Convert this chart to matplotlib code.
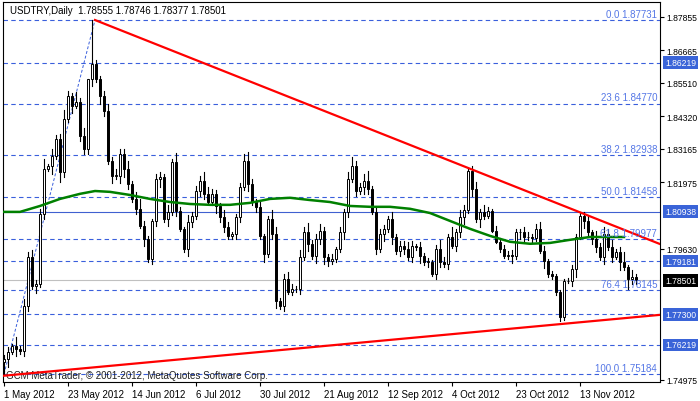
import matplotlib
matplotlib.use("Agg")
import matplotlib.pyplot as plt
import numpy as np

closes = [1.7572,1.7597,1.7618,1.7607,1.7600,1.7760,1.7933,1.7831,1.7838,1.8086,
1.8245,1.8256,1.8291,1.8352,1.8235,1.8423,1.8504,1.8469,1.8483,1.8362,
1.8316,1.8564,1.8618,1.8564,1.8504,1.8451,1.8274,1.8221,1.8221,1.8299,
1.8245,1.8192,1.8139,1.8104,1.8043,1.7997,1.7926,1.8061,1.8210,1.8217,
1.8068,1.8093,1.8270,1.8097,1.8033,1.7962,1.8058,1.8079,1.8167,1.8203,
1.8157,1.8128,1.8157,1.8114,1.8075,1.8040,1.8008,
1.8015,1.8075,1.8182,1.8274,1.8192,1.8128,1.8111,1.8008,1.7944,1.8068,
1.8015,1.7777,1.7760,1.7855,1.7809,1.7820,1.7820,1.7933,1.8022,1.7980,
1.7937,1.7997,1.8026,1.7933,1.7919,1.7926,1.7962,1.8022,1.8093,1.8210,
1.8256,1.8167,1.8182,1.8203,1.8174,1.8093,1.7962,1.8015,1.8033,1.8068,
1.8004,1.7955,1.7972,1.7962,1.7933,1.7972,1.7969,1.7937,1.7916,1.7916,
1.7873,1.7962,1.7916,1.7909,1.8004,1.7972,1.8022,1.8075,1.8100,1.8238,
1.8174,1.8068,1.8093,1.8079,1.8097,1.8026,1.7987,1.7962,1.7937,1.7941,
1.7937,1.8022,1.8022,1.8004,1.8004,1.8001,1.8033,1.7955,1.7919,1.7873,
1.7866,1.7809,1.7721,1.7848,1.7848,1.7891,1.8004,1.8079,1.8061,1.8022,
1.7997,1.7969,1.7933,1.8015,1.7969,1.7933,1.7951,1.7916,1.7898,1.7855,
1.7862,1.7850]
first_open = 1.7560
wick_up = "2315243423614235326250322342433524632133242521423354322431224532312542343243523422313245324623322423343132212532624323424213222322332343121112222"
wick_dn = "3514233242315263241333425324245323142335242312432331243322332423252342312232424343222432324313242423323242313323133424252111212424323214222221"
wick_unit = 0.0006
peak_bar, peak_high = 22, 1.87731
trough_bar, trough_low = 139, 1.7707
start_low = 1.75184

ma_bars = [-0.25,4,9,14,19,22.75,26.5,31.5,36.5,41.5,46.5,51.5,56.5,61.5,66.5,71.5,76.5,81.5,86.5,91.5,96.5,101.5,106.5,111.5,116.5,121.5,126.5,131.5,136.5,141.5,146.5,151.5,155]
ma_vals = [1.8093,1.8093,1.8114,1.8139,1.8157,1.8167,1.8164,1.8153,1.8139,1.8128,1.8121,1.8118,1.8118,1.8125,1.8139,1.8143,1.8135,1.8128,1.8114,1.8111,1.8111,1.8104,1.8089,1.8061,1.8033,1.8008,1.7987,1.7980,1.7983,1.7994,1.8004,1.8004,1.8004]

upper_line = ([22.75, 164], [1.87731, 1.7979])
lower_line = ([-0.25, 164], [1.7512, 1.7728])
fib_diag = ([0, 22.75], [1.75184, 1.87731])

fib_levels = [0.0, 23.6, 38.2, 50.0, 61.8, 76.4, 100.0]
fib_prices = [1.87731, 1.84770, 1.82938, 1.81458, 1.79977, 1.78145, 1.75184]
other_dashed = [1.86219, 1.79181, 1.77300, 1.76219]
solid_level = 1.80938
current = 1.78501
boxed = [1.86219, 1.80938, 1.79181, 1.77300, 1.76219]
ticks = [1.87855, 1.86665, 1.85510, 1.84320, 1.83165, 1.81975, 1.79630, 1.74975]
date_labels = ["1 May 2012","23 May 2012","14 Jun 2012","6 Jul 2012","30 Jul 2012",
               "21 Aug 2012","12 Sep 2012","4 Oct 2012","23 Oct 2012","13 Nov 2012"]
date_bars = [0,16,32,48,64,80,96,112,128,144]

plt.rcParams['font.family'] = ['Liberation Sans', 'DejaVu Sans']
FS = 7
RFS = 6.2

n = len(closes)
opens = [first_open] + closes[:-1]
highs, lows = [], []
for i in range(n):
    u = int(wick_up[i % len(wick_up)]); d = int(wick_dn[i % len(wick_dn)])
    highs.append(max(opens[i], closes[i]) + u*wick_unit)
    lows.append(min(opens[i], closes[i]) - d*wick_unit)
highs[peak_bar] = peak_high
lows[trough_bar] = trough_low
lows[0] = start_low

fig = plt.figure(figsize=(7, 4.02), dpi=100)
ax = fig.add_axes([3/700, 19/402, 657/700, 380/402])
ax.set_xlim(-0.25, 164)
ax.set_ylim(1.7490, 1.8837)
blue = '#3a5fdc'
lblue = '#5577e6'
for p in fib_prices + other_dashed:
    ax.axhline(p, color=blue, lw=0.8, ls=(0, (4, 3)), zorder=1)
ax.axhline(solid_level, color='#4060d0', lw=0.8, zorder=1)
ax.axhline(current, color='#c0c0c0', lw=0.8, zorder=1)
ax.plot(*fib_diag, color=blue, lw=0.7, ls=(0, (3, 2)), zorder=2)

for i in range(n):
    ax.plot([i, i], [lows[i], highs[i]], color='black', lw=0.8, zorder=3)
    up = closes[i] >= opens[i]
    lo = min(opens[i], closes[i]); h = max(abs(closes[i]-opens[i]), 0.00012)
    ax.add_patch(plt.Rectangle((i-0.36, lo), 0.72, h, facecolor='white' if up else 'black',
                               edgecolor='black', lw=0.7, zorder=4))

ax.plot(ma_bars, ma_vals, color='#008000', lw=1.8, zorder=5)
ax.plot(*upper_line, color='#ff0000', lw=1.6, zorder=6)
ax.plot(*lower_line, color='#ff0000', lw=1.6, zorder=6)

for lvl, p in zip(fib_levels, fib_prices):
    ax.text(163.3, p + 0.0004, f"{lvl:.1f} {p:.5f}", ha='right', va='bottom',
            fontsize=FS, color=lblue, zorder=7)

ax.text(0.01, 0.993, "USDTRY,Daily  1.78555 1.78746 1.78377 1.78501", transform=ax.transAxes,
        ha='left', va='top', fontsize=FS, color='black')
ax.text(0.005, 0.005, "GCM MetaTrader, © 2001-2012, MetaQuotes Software Corp.", transform=ax.transAxes,
        ha='left', va='bottom', fontsize=FS, color='#222222')

ax.yaxis.tick_right()
ax.set_yticks(ticks)
ax.set_yticklabels([f"{t:.5f}" for t in ticks], fontsize=RFS)
ax.tick_params(axis='y', length=3, pad=1.5, width=0.8)
ax.set_xticks(date_bars)
ax.set_xticklabels(date_labels, fontsize=FS, ha='left')
ax.tick_params(axis='x', length=3, pad=2, width=0.8)
for s in ax.spines.values():
    s.set_linewidth(0.8)

for p in boxed:
    ax.text(1.0075, p, f"{p:.5f}", transform=ax.get_yaxis_transform(), ha='left', va='center',
            fontsize=RFS, color='white', bbox=dict(boxstyle='square,pad=0.2', fc='#3a64d8', ec='none'))
ax.text(1.0075, current, f"{current:.5f}", transform=ax.get_yaxis_transform(), ha='left', va='center',
        fontsize=RFS, color='white', bbox=dict(boxstyle='square,pad=0.2', fc='black', ec='none'))

fig.savefig("out.png", dpi=100)
